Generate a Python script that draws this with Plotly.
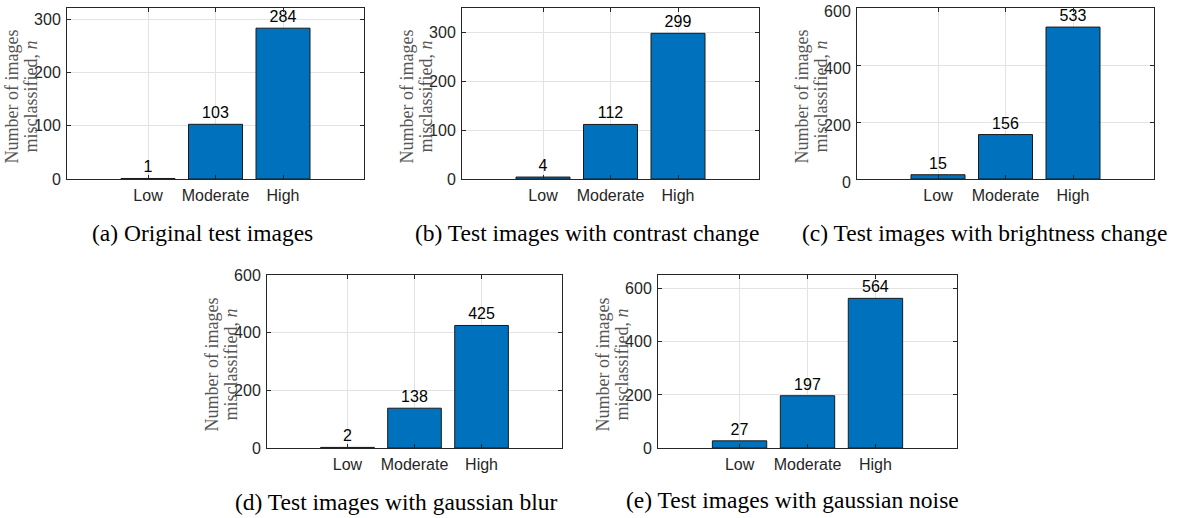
import plotly.graph_objects as go

W, H = 1185, 518

categories = ["Low", "Moderate", "High"]
cat_pos = [1, 2, 3]
original = [1, 103, 284]
contrast = [4, 112, 299]
brightness = [15, 156, 533]
blur = [2, 138, 425]
noise = [27, 197, 564]

captions = [
    "(a) Original test images",
    "(b) Test images with contrast change",
    "(c) Test images with brightness change",
    "(d) Test images with gaussian blur",
    "(e) Test images with gaussian noise",
]
series = [original, contrast, brightness, blur, noise]
y_max = [322, 351, 600, 600, 652]
y_ticks = [[0, 100, 200, 300], [0, 100, 200, 300], [0, 200, 400, 600],
           [0, 200, 400, 600], [0, 200, 400, 600]]

# panel boxes in pixels: left, right, top, bottom
boxes = [
    (67, 364, 8, 179),
    (462, 759, 8, 179),
    (857, 1154, 8, 179),
    (267, 562, 275, 448),
    (658, 957, 275, 448),
]
label_shift = [0, 0, 3, 0, 0]
caption_pos = [(202, 233), (587, 233), (984, 233), (396, 502), (792, 500)]

SANS = "Liberation Sans Narrow, Arial Narrow, Liberation Sans, Arial"
TICK_FONT = dict(family=SANS, size=16, color="#262626")
SERIF = "Liberation Serif, Times New Roman, serif"

fig = go.Figure()
annotations = []
layout = {}
for i, (vals, box) in enumerate(zip(series, boxes)):
    n = "" if i == 0 else str(i + 1)
    l, r, t, b = box
    fig.add_trace(go.Bar(
        x=cat_pos, y=vals, width=0.8,
        marker=dict(color="#0072BD", line=dict(color="#1a1a1a", width=1)),
        text=[str(v) for v in vals], textposition="outside",
        textfont=dict(family=SANS, size=16, color="#000000"),
        cliponaxis=False, constraintext="none",
        xaxis="x" + n, yaxis="y" + n, showlegend=False, hoverinfo="skip",
    ))
    layout["xaxis" + n] = dict(
        domain=[l / W, r / W], anchor="y" + n, range=[-0.2, 4.2],
        tickvals=cat_pos, ticktext=categories, tickfont=TICK_FONT,
        showgrid=True, gridcolor="#e3e3e3", gridwidth=1,
        showline=True, linecolor="#262626", linewidth=1, mirror="ticks",
        ticks="inside", ticklen=4, tickcolor="#262626",
        zeroline=False, fixedrange=True, ticklabelstandoff=2,
        automargin=False, ticklabeloverflow="allow",
    )
    layout["yaxis" + n] = dict(
        domain=[(H - b) / H, (H - t) / H], anchor="x" + n, range=[0, y_max[i]],
        tickvals=y_ticks[i], tickfont=TICK_FONT,
        showgrid=True, gridcolor="#e3e3e3", gridwidth=1,
        showline=True, linecolor="#262626", linewidth=1, mirror="ticks",
        ticks="inside", ticklen=4, tickcolor="#262626",
        zeroline=False, fixedrange=True, ticklabelstandoff=2,
        ticklabelshift=label_shift[i],
        automargin=False, ticklabeloverflow="allow",
    )
    yc = (t + b) / 2 + 3
    for txt, dx in [("Number of images", -56), ("misclassified, <i>n</i>", -37)]:
        annotations.append(dict(
            text=txt, textangle=-90, x=(l + dx) / W, y=(H - yc) / H,
            xref="paper", yref="paper", showarrow=False,
            xanchor="center", yanchor="middle",
            font=dict(family=SERIF, size=18, color="#555555"),
        ))
    cx, cy = caption_pos[i]
    annotations.append(dict(
        text=captions[i], x=cx / W, y=(H - cy) / H, xref="paper", yref="paper",
        showarrow=False, xanchor="center", yanchor="middle",
        font=dict(family=SERIF, size=23.5, color="#000000"),
    ))

fig.update_layout(
    width=W, height=H, margin=dict(l=0, r=0, t=0, b=0, autoexpand=False),
    paper_bgcolor="white", plot_bgcolor="white",
    annotations=annotations, bargap=0.2, **layout,
)
fig.write_html("out.html", config={"displayModeBar": False})
